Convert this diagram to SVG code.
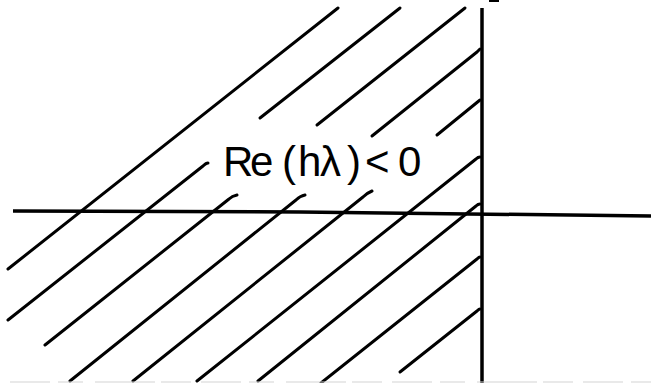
<svg xmlns="http://www.w3.org/2000/svg" width="651" height="383" viewBox="0 0 651 383">
<style>
.h{fill:none;stroke:#000;stroke-width:3;stroke-linecap:round;stroke-linejoin:round}
.ax{fill:none;stroke:#000;stroke-width:3.5;stroke-linecap:butt}
.lbl{font-family:"Liberation Sans","DejaVu Sans",sans-serif;font-size:42px;fill:#000}
</style>
<rect width="651" height="383" fill="#fff"/>
<g id="hatch">
<path class="h" d="M8,269 L338,8"/>
<path class="h" d="M260,118 L400,8"/>
<path class="h" d="M317,125 L465,8"/>
<path class="h" d="M8,320 L203,166 Q206,163 208,163"/>
<path class="h" d="M45,345 L229,199 Q232,196 237,195"/>
<path class="h" d="M70,381 L296,200 Q300,196 305,195"/>
<path class="h" d="M133,381 L363,197 Q367,193 372,191"/>
<path class="h" d="M197,381 L476,159 Q478,157 480,157"/>
<path class="h" d="M258,381 L476,206 Q478,204 480,204"/>
<path class="h" d="M321,383 L477,259 Q479,257 480,257"/>
<path class="h" d="M400,372 L477,311 Q479,309 480,309"/>
<path class="h" d="M372,136 L477,52 Q479,50 480,49"/>
<path class="h" d="M437,135 L480,100"/>
</g>
<g id="axes">
<path class="ax" d="M13,211 L300,212 L651,216"/>
<path class="ax" d="M482,8 L482,383"/>
<path fill="none" stroke="#000" stroke-width="2" d="M489,1 L499,1"/>
</g>
<g id="label">
<text class="lbl" x="223 250 282 298 320 347 365 398" y="176">Re(hλ)&lt;0</text>
</g>
<path fill="none" stroke="#d4d4d4" stroke-width="1.2" stroke-dasharray="40,8,25,12,60,6,30,10" d="M10,382 L651,382"/>
</svg>
